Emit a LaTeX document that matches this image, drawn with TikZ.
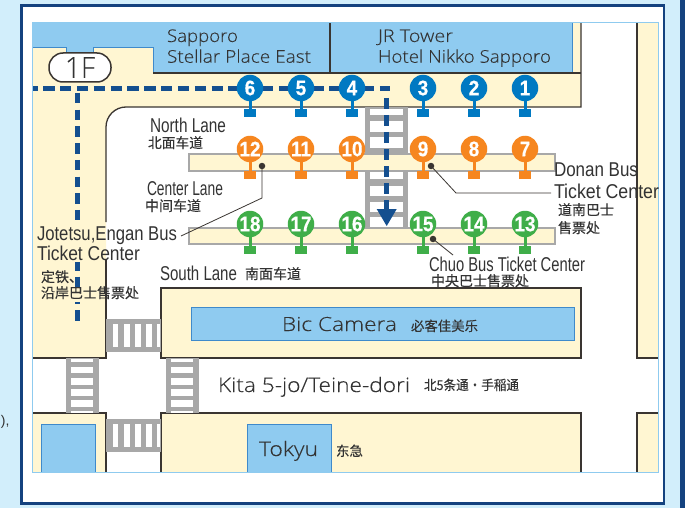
\documentclass[tikz,border=0pt]{standalone}
\usepackage{fontspec}
\usepackage{graphicx}
\setmainfont{Liberation Sans}
\newfontfamily\cjk[FakeBold=0.25]{Noto Sans CJK SC}
\newfontfamily\wide{Open Sans}[UprightFont=* Light,FakeBold=0.2]
\newfontfamily\numf{Liberation Sans}[UprightFont=* Bold,FakeBold=0.6]
\definecolor{bgblue}{HTML}{D2EEFB}
\definecolor{navy}{HTML}{14427F}
\definecolor{dashblue}{HTML}{144F8F}
\definecolor{mapedge}{HTML}{8FCBEF}
\definecolor{bldg}{HTML}{8FCBF0}
\definecolor{bldgedge}{HTML}{3F8ACB}
\definecolor{cream}{HTML}{FFF6D2}
\definecolor{ink}{HTML}{333333}
\definecolor{road}{HTML}{3A3531}
\definecolor{walk}{HTML}{A8A8A8}
\definecolor{bblue}{HTML}{0079C2}
\definecolor{borange}{HTML}{F6861F}
\definecolor{bgreen}{HTML}{3FAE49}
\tikzset{
  txt/.style={anchor=base west,inner sep=0pt,outer sep=0pt,text=ink},
  roadline/.style={draw=road,line width=1.3pt},
  platform/.style={draw=walk,line width=1.3pt,fill=cream},
  shop/.style={draw=bldgedge,line width=1pt,fill=bldg},
  walkbg/.style={fill=walk},
  walkgap/.style={fill=white},
  routeline/.style={draw=dashblue,line width=5pt},
  leader/.style={draw=road,line width=.8pt},
  leaderdot/.style={circle,fill=road,inner sep=0pt,minimum size=6.5pt},
  badge/.style={circle,fill=#1,inner sep=0pt,minimum size=26.5pt,text=white},
  foot/.style={rectangle,fill=#1,inner sep=0pt,minimum width=12pt,minimum height=8pt}
}
\newcommand\lab[6]{\node[txt] (#1) at (#2,#3) {\resizebox{#4pt}{\height}{\fontsize{#5}{#5}\selectfont #6}};}
\newcommand\wlab[6]{\node[txt] (#1) at (#2,#3) {\resizebox{#4pt}{\height}{\wide\fontsize{#5}{#5}\selectfont #6}};}
\newcommand\zlab[6]{\node[txt] (#1) at (#2,#3) {\resizebox{#4pt}{\height}{\cjk\fontsize{#5}{#5}\selectfont #6}};}
\newcommand\busstop[5]{%
  \node[foot=#4] (f#1) at (#2,#3+#5) {};
  \node[badge=#4] (b#1) at (#2,#3) {\scalebox{.9}[1]{\numf\fontsize{21}{21}\selectfont #1}};
  \draw[#4,line width=3pt] (b#1) -- (f#1);
}
\newcommand\hcross[1]{%
  \fill[walkbg] (106,#1) rectangle (161,#1+33);
  \foreach \a/\b in {113/118,124/130,135/141,146/152,157/160}
    \fill[walkgap] (\a,#1+5) rectangle (\b,#1+28);
}
\newcommand\vcross[1]{%
  \fill[walkbg] (#1,358) rectangle (#1+33,413);
  \foreach \a/\b in {359/362,367/373,378/385,389/396,400/407,411/413}
    \fill[walkgap] (#1+5,\a) rectangle (#1+27,\b);
}
\begin{document}
\begin{tikzpicture}[x=1pt,y=-1pt]
\useasboundingbox (0,0) rectangle (685,508);
\fill[bgblue] (0,0) rectangle (685,508);
\fill[navy] (680,0) rectangle (685,508);
\filldraw[fill=white,draw=navy,line width=2.8pt] (21.5,5.5) rectangle (664,503.5);
\node[txt,text=ink] (cut) at (1,425) {\fontsize{14}{14}\selectfont ),};
% ground
\fill[white] (32,23) rectangle (658,472);
\fill[cream] (32,47) -- (572,47) -- (572,23) -- (581,23) -- (581,107) -- (126,107)
  .. controls (115,107) and (106,116) .. (106,127) -- (106,358) -- (32,358) -- cycle;
\fill[cream] (637,23) rectangle (658,358);
\fill[cream] (637,413) rectangle (658,472);
\fill[cream] (32,413) rectangle (106,472);
\fill[cream] (161,288) rectangle (581,358);
\fill[cream] (161,413) rectangle (581,472);
% station buildings
\fill[bldg] (32,23) -- (572,23) -- (572,73) -- (153,73) -- (153,47) -- (93,47) -- (93,53) -- (66,53) -- (66,47) -- (32,47) -- cycle;
\draw[bldgedge,line width=.9pt] (32,47) -- (66,47) -- (66,53) -- (93,53) -- (93,47) -- (153,47) -- (153,73);
\draw[bldgedge,line width=.9pt] (572,23) -- (572,73);
\draw[roadline] (153,73) -- (581,73);
\draw[roadline] (330,23) -- (330,73);
% kerbs
\draw[roadline] (581,23) -- (581,107) -- (126,107) .. controls (115,107) and (106,116) .. (106,127) -- (106,222);
\draw[roadline] (106,259) -- (106,358) -- (32,358);
\draw[roadline] (658,358) -- (637,358) -- (637,23);
\draw[roadline] (658,413) -- (637,413) -- (637,472);
\draw[roadline] (32,413) -- (106,413) -- (106,472);
\draw[roadline] (161,358) rectangle (581,288);
\draw[roadline] (161,472) -- (161,413) -- (581,413) -- (581,472);
% shops
\draw[shop] (191,307) rectangle (574,340);
\draw[shop] (247,472) -- (247,424) -- (331,424) -- (331,472);
\draw[shop] (41,472) -- (41,424) -- (95,424) -- (95,472);
% crossings
\fill[walkbg] (365,107) rectangle (408,228);
\foreach \a/\b in {109/115,121/132,137/148,172/179,186/196,202/212,217/227}
  \fill[walkgap] (370,\a) rectangle (403,\b);
\hcross{319}
\hcross{419}
\vcross{66}
\vcross{166}
% platforms
\draw[platform] (189,154) rectangle (555,171);
\draw[platform] (189,228) rectangle (555,244);
% map edge
\draw[mapedge,line width=1pt] (32,23) rectangle (658,472);
% walking route
\coordinate (rw) at (33,88.5);
\coordinate (rc) at (389.5,88.5);
\coordinate (rs) at (386.7,98);
\coordinate (re) at (386.7,209);
\coordinate (ra) at (77.3,93);
\coordinate (rb) at (77.3,322);
\draw[routeline,dash pattern=on 11.3pt off 5.53pt,dash phase=6.5pt] (rw) -- (rc);
\draw[routeline,dash pattern=on 11pt off 6pt] (rs) -- (re);
\draw[routeline,dash pattern=on 10.5pt off 6.2pt] (ra) -- (rb);
\fill[dashblue] (376.7,209) -- (396.7,209) -- (386.7,226) -- cycle;
% the text glow hides the route behind the ticket-center label
\fill[cream] (72,225) rectangle (83,262);
\fill[cream] (72,287) rectangle (83,302);
% floor tag
\node[draw=road,line width=1.5pt,fill=white,rounded corners=14pt,minimum width=62pt,minimum height=29pt,inner sep=0pt,text=ink] (floor) at (80,67.5) {\resizebox{30pt}{\height}{\wide\fontsize{29}{29}\selectfont 1F}};
% stops
\busstop{6}{250}{88}{bblue}{25}
\busstop{5}{301}{88}{bblue}{25}
\busstop{4}{352}{88}{bblue}{25}
\busstop{3}{423}{88}{bblue}{25}
\busstop{2}{474}{88}{bblue}{25}
\busstop{1}{525}{88}{bblue}{25}
\busstop{12}{250}{149}{borange}{26}
\busstop{11}{301}{149}{borange}{26}
\busstop{10}{352}{149}{borange}{26}
\busstop{9}{423}{149}{borange}{26}
\busstop{8}{474}{149}{borange}{26}
\busstop{7}{525}{149}{borange}{26}
\busstop{18}{250}{224}{bgreen}{26}
\busstop{17}{301}{224}{bgreen}{26}
\busstop{16}{352}{224}{bgreen}{26}
\busstop{15}{423}{224}{bgreen}{26}
\busstop{14}{474}{224}{bgreen}{26}
\busstop{13}{525}{224}{bgreen}{26}
% labels
\wlab{sap}{167}{42}{71}{17.5}{Sapporo}
\wlab{ste}{167}{62.7}{144}{17.5}{Stellar Place East}
\wlab{jrt}{378}{42}{75}{17.5}{JR Tower}
\wlab{hot}{378}{62.7}{173}{17.5}{Hotel Nikko Sapporo}
\lab{nl}{150}{132}{76}{20}{North Lane}
\zlab{nlz}{148}{148}{55}{14}{北面车道}
\lab{cl}{147}{195}{76}{20}{Center Lane}
\zlab{clz}{145}{211}{56}{14}{中间车道}
\lab{jo}{37}{240.7}{140}{20}{Jotetsu,Engan Bus}
\lab{jot}{37}{260}{103}{20}{Ticket Center}
\zlab{joz}{41}{282}{42}{14}{定铁、}
\zlab{joy}{41}{298}{98}{14}{沿岸巴士售票处}
\lab{sl}{160}{280}{77}{20}{South Lane}
\zlab{slz}{245}{279}{56}{14}{南面车道}
\wlab{bic}{282}{331}{115}{19.5}{Bic Camera}
\zlab{bicz}{411}{331}{67}{13.5}{必客佳美乐}
\wlab{kita}{218}{392}{192}{20}{Kita 5-jo/Teine-dori}
\zlab{kitaz}{424}{390}{95}{13.5}{北5条通·手稲通}
\wlab{tok}{259}{456}{59}{20}{Tokyu}
\zlab{tokz}{336}{456}{27}{13.5}{东急}
\lab{do}{554}{176}{84}{20}{Donan Bus}
\lab{dot}{554}{198}{105}{20}{Ticket Center}
\zlab{doz}{558}{215}{56}{14}{道南巴士}
\zlab{doy}{558}{233}{42}{14}{售票处}
\lab{ch}{429}{271}{156}{20}{Chuo Bus Ticket Center}
\zlab{chz}{431}{286}{98}{14}{中央巴士售票处}
% leaders
\node[leaderdot] (d12) at (262,166) {};
\node[leaderdot] (d9) at (431,166) {};
\node[leaderdot] (d15) at (433,239) {};
\coordinate (k12) at (262,198);
\coordinate (e12) at (181,236);
\coordinate (k9) at (456,193);
\coordinate (e9) at (551,193);
\coordinate (e15) at (453,255);
\draw[leader] (d12.center) -- (k12) -- (e12);
\draw[leader] (d9.center) -- (k9) -- (e9);
\draw[leader] (d15.center) -- (e15);
\end{tikzpicture}
\end{document}
